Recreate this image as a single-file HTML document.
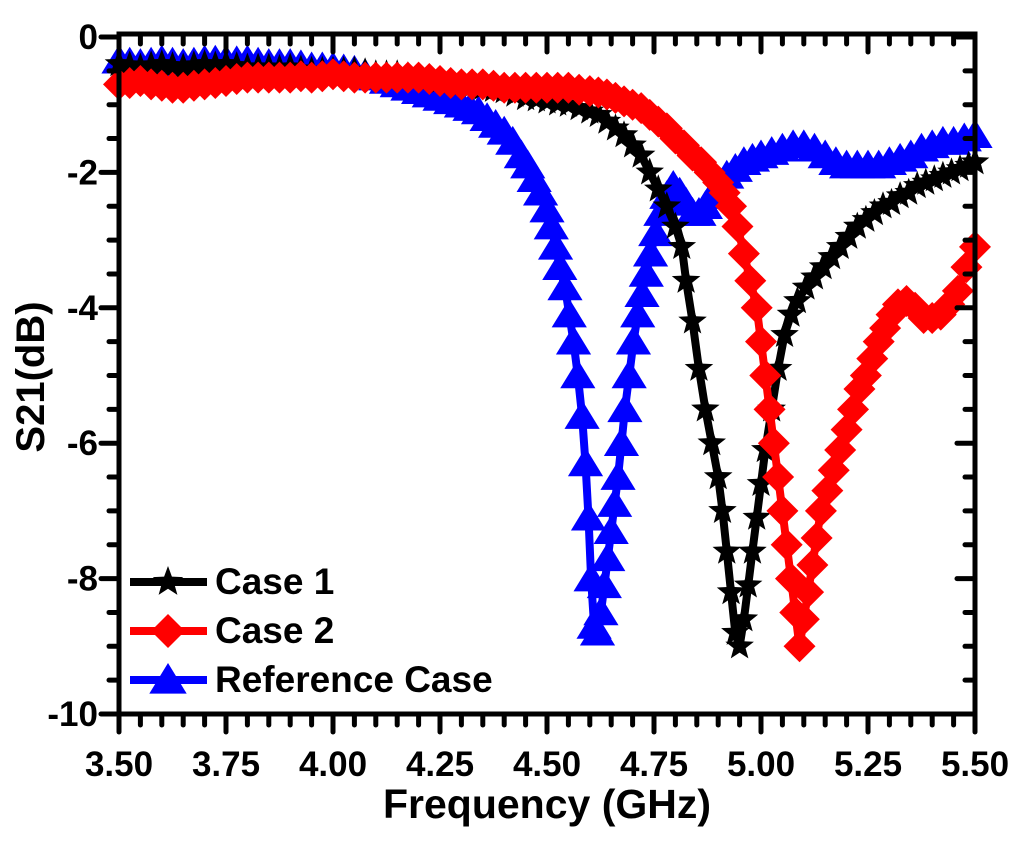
<!DOCTYPE html>
<html><head><meta charset="utf-8"><style>
html,body{margin:0;padding:0;background:#fff}
svg{display:block}
text{font-family:"Liberation Sans",Arial,sans-serif;font-weight:bold;fill:#000}
</style></head><body>
<svg id="chart" width="1024" height="841" viewBox="0 0 1024 841" xmlns="http://www.w3.org/2000/svg">
<g id="plot"></g>
<g id="axes"></g>
<g id="legend"></g>
</svg>
<script>
const xTicks=[3.5,3.75,4.0,4.25,4.5,4.75,5.0,5.25,5.5];
const xTickLabels=["3.50","3.75","4.00","4.25","4.50","4.75","5.00","5.25","5.50"];
const yTicks=[0,-2,-4,-6,-8,-10];
const yTickLabels=["0","-2","-4","-6","-8","-10"];
const seriesNames=["Case 1","Case 2","Reference Case"];
const case1F=[3.5,3.525,3.55,3.575,3.6,3.625,3.65,3.675,3.7,3.725,3.75,3.775,3.8,3.825,3.85,3.875,3.9,3.925,3.95,3.975,4.0,4.025,4.05,4.075,4.1,4.125,4.15,4.175,4.2,4.225,4.25,4.275,4.3,4.325,4.35,4.375,4.4,4.425,4.45,4.475,4.5,4.525,4.55,4.575,4.6,4.62,4.64,4.66,4.68,4.7,4.72,4.74,4.76,4.78,4.8,4.815,4.825,4.84,4.855,4.87,4.885,4.9,4.91,4.92,4.93,4.94,4.95,4.96,4.97,4.98,4.99,5.0,5.01,5.025,5.04,5.055,5.07,5.085,5.105,5.125,5.145,5.165,5.185,5.205,5.225,5.245,5.265,5.285,5.305,5.325,5.345,5.365,5.385,5.405,5.425,5.445,5.465,5.485,5.5];
const case1V=[-0.4,-0.42,-0.45,-0.42,-0.4,-0.43,-0.45,-0.42,-0.4,-0.42,-0.4,-0.43,-0.45,-0.45,-0.45,-0.47,-0.45,-0.48,-0.5,-0.5,-0.5,-0.5,-0.5,-0.52,-0.55,-0.55,-0.55,-0.58,-0.6,-0.62,-0.65,-0.67,-0.7,-0.72,-0.75,-0.78,-0.8,-0.85,-0.9,-0.92,-0.95,-0.98,-1.0,-1.05,-1.1,-1.15,-1.25,-1.35,-1.45,-1.6,-1.75,-2.0,-2.25,-2.5,-2.8,-3.1,-3.6,-4.2,-4.9,-5.5,-6.0,-6.5,-7.0,-7.6,-8.2,-8.8,-9.0,-8.6,-8.1,-7.6,-7.1,-6.6,-6.1,-5.5,-4.9,-4.4,-4.1,-3.9,-3.7,-3.55,-3.4,-3.25,-3.1,-2.95,-2.8,-2.7,-2.6,-2.5,-2.45,-2.35,-2.3,-2.2,-2.15,-2.1,-2.05,-2.0,-1.95,-1.9,-1.85];
const case2F=[3.5,3.525,3.55,3.575,3.6,3.625,3.65,3.675,3.7,3.725,3.75,3.775,3.8,3.825,3.85,3.875,3.9,3.925,3.95,3.975,4.0,4.025,4.05,4.075,4.1,4.125,4.15,4.175,4.2,4.225,4.25,4.275,4.3,4.325,4.35,4.375,4.4,4.425,4.45,4.475,4.5,4.525,4.55,4.575,4.6,4.62,4.64,4.66,4.68,4.7,4.72,4.74,4.76,4.78,4.8,4.82,4.84,4.86,4.88,4.9,4.915,4.93,4.945,4.96,4.975,4.99,5.0,5.01,5.02,5.03,5.04,5.05,5.06,5.07,5.08,5.09,5.1,5.11,5.12,5.13,5.14,5.155,5.17,5.185,5.2,5.215,5.23,5.245,5.26,5.275,5.29,5.305,5.32,5.34,5.36,5.38,5.4,5.42,5.44,5.46,5.48,5.5];
const case2V=[-0.7,-0.68,-0.65,-0.7,-0.72,-0.75,-0.75,-0.72,-0.7,-0.68,-0.65,-0.62,-0.6,-0.6,-0.6,-0.6,-0.6,-0.58,-0.6,-0.58,-0.55,-0.58,-0.6,-0.6,-0.6,-0.6,-0.6,-0.6,-0.6,-0.62,-0.65,-0.68,-0.7,-0.7,-0.7,-0.72,-0.75,-0.75,-0.75,-0.75,-0.75,-0.75,-0.75,-0.78,-0.8,-0.82,-0.85,-0.9,-0.95,-1.0,-1.05,-1.15,-1.25,-1.35,-1.5,-1.6,-1.75,-1.85,-2.0,-2.15,-2.3,-2.5,-2.8,-3.2,-3.6,-4.0,-4.5,-5.0,-5.5,-6.0,-6.5,-7.0,-7.5,-8.0,-8.5,-9.0,-8.6,-8.2,-7.8,-7.4,-7.0,-6.7,-6.4,-6.1,-5.8,-5.5,-5.2,-5.0,-4.75,-4.5,-4.3,-4.1,-3.95,-3.9,-4.0,-4.15,-4.15,-4.1,-3.95,-3.75,-3.4,-3.1];
const refF=[3.5,3.525,3.55,3.575,3.6,3.625,3.65,3.675,3.7,3.725,3.75,3.775,3.8,3.825,3.85,3.875,3.9,3.925,3.95,3.975,4.0,4.025,4.05,4.075,4.1,4.125,4.15,4.175,4.2,4.225,4.25,4.275,4.3,4.32,4.34,4.36,4.38,4.4,4.42,4.44,4.455,4.47,4.485,4.5,4.51,4.52,4.53,4.542,4.552,4.562,4.572,4.582,4.59,4.597,4.603,4.61,4.618,4.626,4.634,4.642,4.65,4.658,4.666,4.674,4.682,4.692,4.702,4.712,4.722,4.732,4.742,4.754,4.766,4.78,4.795,4.81,4.825,4.84,4.855,4.87,4.885,4.9,4.92,4.94,4.96,4.98,5.0,5.025,5.05,5.075,5.1,5.125,5.15,5.175,5.2,5.225,5.25,5.275,5.3,5.325,5.35,5.375,5.4,5.425,5.45,5.475,5.5];
const refV=[-0.35,-0.38,-0.4,-0.38,-0.35,-0.38,-0.4,-0.38,-0.35,-0.35,-0.35,-0.36,-0.35,-0.38,-0.4,-0.4,-0.4,-0.42,-0.45,-0.45,-0.45,-0.48,-0.5,-0.55,-0.6,-0.65,-0.7,-0.75,-0.8,-0.85,-0.9,-0.95,-1.0,-1.05,-1.1,-1.2,-1.3,-1.4,-1.55,-1.75,-1.9,-2.1,-2.3,-2.55,-2.8,-3.1,-3.4,-3.7,-4.1,-4.5,-5.0,-5.6,-6.3,-7.1,-8.0,-8.7,-8.8,-8.5,-8.1,-7.7,-7.3,-6.9,-6.5,-6.0,-5.5,-5.0,-4.5,-4.1,-3.8,-3.5,-3.2,-2.9,-2.6,-2.35,-2.2,-2.3,-2.45,-2.6,-2.6,-2.5,-2.35,-2.2,-2.05,-1.95,-1.85,-1.8,-1.75,-1.7,-1.65,-1.6,-1.6,-1.65,-1.75,-1.85,-1.9,-1.9,-1.9,-1.9,-1.85,-1.8,-1.75,-1.65,-1.6,-1.55,-1.55,-1.5,-1.45];

const X0=119,X1=975,Y0=37,Y1=714;
const NS="http://www.w3.org/2000/svg";
function xs(v){return X0+(v-3.5)/2*(X1-X0);}
function ys(v){return Y0+(0-v)/10*(Y1-Y0);}
function mk(tag,attrs,parent){const e=document.createElementNS(NS,tag);for(const k in attrs)e.setAttribute(k,attrs[k]);parent.appendChild(e);return e;}
const plot=document.getElementById('plot'),axes=document.getElementById('axes'),legend=document.getElementById('legend');

function star(cx,cy,r){let p=[];for(let i=0;i<10;i++){const a=-Math.PI/2+i*Math.PI/5;const rr=i%2?r*0.42:r;p.push((cx+rr*Math.cos(a)).toFixed(1)+','+(cy+rr*Math.sin(a)).toFixed(1));}return p.join(' ');}
function diamond(cx,cy,r){return `${cx},${cy-r} ${cx+r},${cy} ${cx},${cy+r} ${cx-r},${cy}`;}
function tri(cx,cy,r){return `${cx},${cy-r} ${cx+r*1.1},${cy+r*0.8} ${cx-r*1.1},${cy+r*0.8}`;}
const shapes={star:[star,15],diamond:[diamond,16],tri:[tri,16]};

function drawSeries(F,V,color,shape,name){
  const g=mk('g',{},plot);
  
  
  const pts=F.map((f,i)=>xs(f).toFixed(1)+','+ys(V[i]).toFixed(1)).join(' ');
  const line=mk('polyline',{points:pts,fill:'none',stroke:color,'stroke-width':8,'stroke-linejoin':'round'},g);
  
  
  const [fn,r]=shapes[shape];
  F.forEach((f,i)=>{
    const m=mk('polygon',{points:fn(xs(f),ys(V[i]),r),fill:color},g);
    
    
  });
}
drawSeries(refF,refV,'#0000ff','tri','reference-case-series');
drawSeries(case1F,case1V,'#000','star','case-1-series');
drawSeries(case2F,case2V,'#ff0000','diamond','case-2-series');

const fr=mk('rect',{x:X0,y:34,width:X1-X0,height:Y1-34,fill:'none',stroke:'#000','stroke-width':5},axes);


for(let k=0;k<=40;k++){
  const v=3.5+k*0.05,x=xs(v),maj=k%5===0;
  const t=mk('line',{x1:x,y1:Y1,x2:x,y2:Y1+(maj?18:11),stroke:'#000','stroke-width':5,'stroke-linecap':'round'},axes);
  
  
  const t2=mk('line',{x1:x,y1:34,x2:x,y2:34+(maj?18:10),stroke:'#000','stroke-width':5,'stroke-linecap':'round'},axes);
  
  
}
xTicks.forEach((v,i)=>{
  const t=mk('text',{x:xs(v),y:776,'font-size':35,'text-anchor':'middle'},axes);
  t.textContent=xTickLabels[i];
  
  
});
for(let k=0;k<=20;k++){
  const v=-k*0.5,y=ys(v),maj=k%4===0;
  const t=mk('line',{x1:X0,y1:y,x2:X0-(maj?18:10),y2:y,stroke:'#000','stroke-width':5,'stroke-linecap':'round'},axes);
  
  
  const t2=mk('line',{x1:X1,y1:y,x2:X1-(maj?18:10),y2:y,stroke:'#000','stroke-width':5,'stroke-linecap':'round'},axes);
  
  
}
yTicks.forEach((v,i)=>{
  const t=mk('text',{x:98,y:ys(v)+12,'font-size':35,'text-anchor':'end'},axes);
  t.textContent=yTickLabels[i];
  
  
});
const xt=mk('text',{x:547,y:818,'font-size':41,'text-anchor':'middle'},axes);
xt.textContent='Frequency (GHz)';


const yt=mk('text',{x:0,y:0,'font-size':40,'text-anchor':'middle',transform:'translate(44,377) rotate(-90)'},axes);
yt.textContent='S21(dB)';



const legColors=['#000','#ff0000','#0000ff'],legShapes=['star','diamond','tri'];
seriesNames.forEach((n,i)=>{
  const y=582+i*49;
  const g=mk('g',{},legend);
  
  
  mk('line',{x1:130,y1:y,x2:207,y2:y,stroke:legColors[i],'stroke-width':8},g);
  const [fn,r]=shapes[legShapes[i]];
  mk('polygon',{points:fn(168,y,r+1),fill:legColors[i]},g);
  const t=mk('text',{x:215,y:y+12,'font-size':37},g);
  t.textContent=n;
});
</script>
</body></html>
